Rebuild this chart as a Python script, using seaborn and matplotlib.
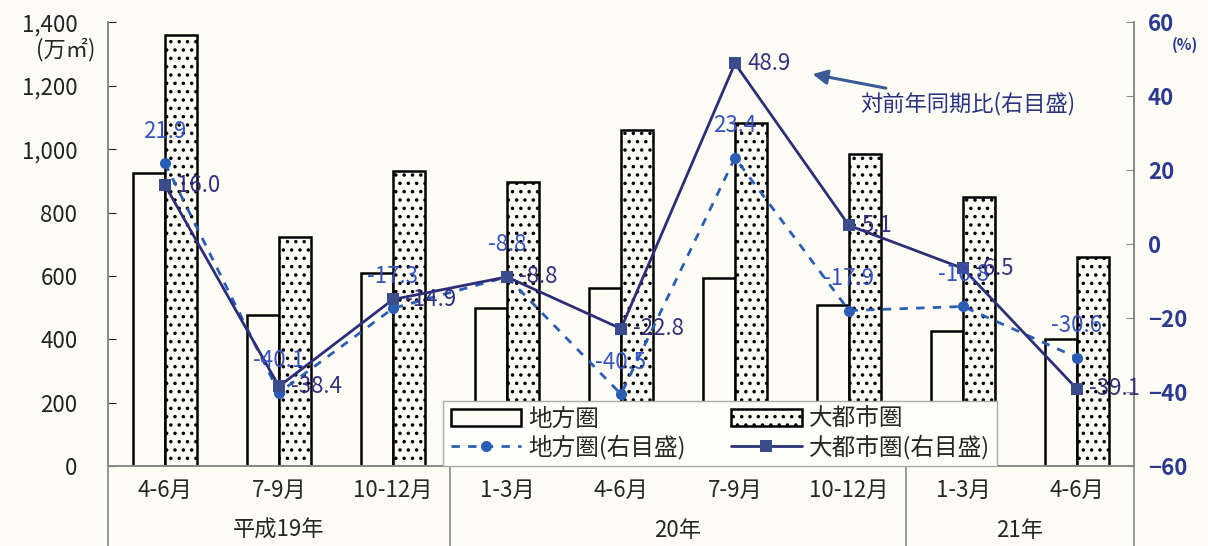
import matplotlib
matplotlib.use("Agg")
import matplotlib.pyplot as plt
import matplotlib.transforms as mtransforms
import numpy as np
import pandas as pd
import seaborn as sns
from matplotlib.lines import Line2D
from matplotlib.patches import Patch
from matplotlib.ticker import FuncFormatter

QUARTERS = ["4-6月", "7-9月", "10-12月", "1-3月", "4-6月", "7-9月", "10-12月", "1-3月", "4-6月"]
YEARS = ["平成19年", "20年", "21年"]
YEAR_SPANS = [(0, 2), (3, 6), (7, 8)]  # first / last quarter of each year
REGIONAL_AREA = [924, 476, 609, 499, 561, 595, 510, 428, 403]
METRO_AREA = [1361, 724, 932, 898, 1061, 1083, 986, 850, 661]
REGIONAL_PCT = [21.9, -40.1, -17.3, -8.8, -40.5, 23.4, -17.9, -16.8, -30.6]
METRO_PCT = [16.0, -38.4, -14.9, -8.8, -22.8, 48.9, 5.1, -6.5, -39.1]

BG = "#fdfdf5"
BLUE = "#2a5db4"
NAVY = "#2c2f78"
TICK_NAVY = "#2b3990"


def main():
    sns.set_style("white")
    plt.rcParams["font.family"] = ["Noto Sans CJK JP", "DejaVu Sans"]
    plt.rcParams["hatch.linewidth"] = 1.3

    fig = plt.figure(figsize=(12.08, 5.46), dpi=100, facecolor=BG)
    ax = fig.add_axes([0.0894, 0.146, 0.8493, 0.813])
    ax.set_facecolor(BG)

    idx = np.arange(len(QUARTERS))
    df = pd.DataFrame({
        "idx": np.concatenate([idx, idx]),
        "series": ["地方圏"] * len(idx) + ["大都市圏"] * len(idx),
        "value": REGIONAL_AREA + METRO_AREA,
    })
    sns.barplot(data=df, x="idx", y="value", hue="series", ax=ax,
                palette=[BG, BG], edgecolor="black", linewidth=1.8,
                width=0.56, gap=0, legend=False, saturation=1)
    for bar in ax.containers[1]:
        bar.set_hatch("..")

    ax.set_ylim(0, 1400)
    ax.set_xlim(-0.5, len(QUARTERS) - 0.5)
    ax.set_yticks(np.arange(0, 1401, 200))
    ax.yaxis.set_major_formatter(FuncFormatter(lambda v, p: f"{v:,.0f}"))
    ax.set_xticks(idx)
    ax.set_xticklabels(QUARTERS, fontsize=16)
    ax.tick_params(axis="x", length=0, pad=9)
    ax.tick_params(axis="y", direction="in", length=6, labelsize=16, colors="#222222", pad=22)
    ax.set_xlabel("")
    ax.set_ylabel("")

    ax2 = ax.twinx()
    sns.lineplot(x=idx, y=REGIONAL_PCT, ax=ax2, color=BLUE, linestyle=(0, (3, 3)),
                 linewidth=2, marker="o", markersize=8, markeredgewidth=0)
    sns.lineplot(x=idx, y=METRO_PCT, ax=ax2, color=NAVY, linewidth=2,
                 marker="s", markersize=8, markeredgewidth=0, markerfacecolor="#3a4c8c")
    ax2.set_ylim(-60, 60)
    ax2.set_xlim(-0.5, len(QUARTERS) - 0.5)
    ax2.set_yticks(np.arange(-60, 61, 20))
    ax2.tick_params(axis="y", direction="in", length=6, labelsize=16, colors="#888888",
                    labelcolor=TICK_NAVY, pad=10)
    for lab in ax2.get_yticklabels():
        lab.set_fontweight("bold")

    for a in (ax, ax2):
        a.spines["top"].set_visible(False)
        for side in ("left", "right", "bottom"):
            a.spines[side].set_color("#888888")
            a.spines[side].set_linewidth(1.2)

    for x, v in zip(idx, REGIONAL_PCT):
        ax2.annotate(f"{v:.1f}", (x, v), xytext=(0, 23), textcoords="offset points",
                     ha="center", va="center", fontsize=16, color="#3652bf")
    for x, v in zip(idx, METRO_PCT):
        ax2.annotate(f"{v:.1f}", (x, v), xytext=(9, 0), textcoords="offset points",
                     ha="left", va="center", fontsize=16, color="#33307e")

    ax2.annotate("対前年同期比(右目盛)", xy=(5.68, 46), xytext=(6.1, 38),
                 ha="left", va="center", fontsize=16, color="#2a3380",
                 arrowprops=dict(arrowstyle="-|>", color="#3a5a98", lw=2.2,
                                 mutation_scale=22, shrinkA=2, shrinkB=0))

    # category frame under the axis
    trans = mtransforms.blended_transform_factory(ax.transData, ax.transAxes)
    for xb in [-0.5, 2.5, 6.5, len(QUARTERS) - 0.5]:
        ax.add_line(Line2D([xb, xb], [0, -0.25], transform=trans, color="#888888",
                           lw=1.2, clip_on=False))
    for name, (s, e) in zip(YEARS, YEAR_SPANS):
        ax.text((s + e) / 2, -0.145, name, transform=trans, ha="center", va="center",
                fontsize=16)

    fig.text(0.054, 0.91, "(万㎡)", ha="center", va="center", fontsize=16)
    fig.text(0.981, 0.918, "(%)", ha="center", va="center", fontsize=11,
             color=TICK_NAVY, fontweight="bold")

    handles = [
        Patch(facecolor=BG, edgecolor="black", linewidth=1.8, label="地方圏"),
        Line2D([], [], color=BLUE, linestyle=(0, (3, 3)), lw=2, marker="o",
               markersize=8, markeredgewidth=0, label="地方圏(右目盛)"),
        Patch(facecolor=BG, edgecolor="black", linewidth=1.8, hatch="..", label="大都市圏"),
        Line2D([], [], color=NAVY, lw=2, marker="s", markersize=8,
               markeredgewidth=0, markerfacecolor="#3a4c8c", label="大都市圏(右目盛)"),
    ]
    leg = ax2.legend(handles=handles, ncol=2, loc="lower left",
                     bbox_to_anchor=(0.327, 0.0), fontsize=17, frameon=True,
                     fancybox=False, facecolor="#fffffa", edgecolor="#aaaaaa",
                     framealpha=1, handlelength=3.0, handletextpad=0.3,
                     columnspacing=1.9, labelspacing=0.15, borderpad=0.3,
                     borderaxespad=0.0)
    leg.set_zorder(10)

    fig.savefig("out.png", dpi=100, facecolor=BG)


if __name__ == "__main__":
    main()
